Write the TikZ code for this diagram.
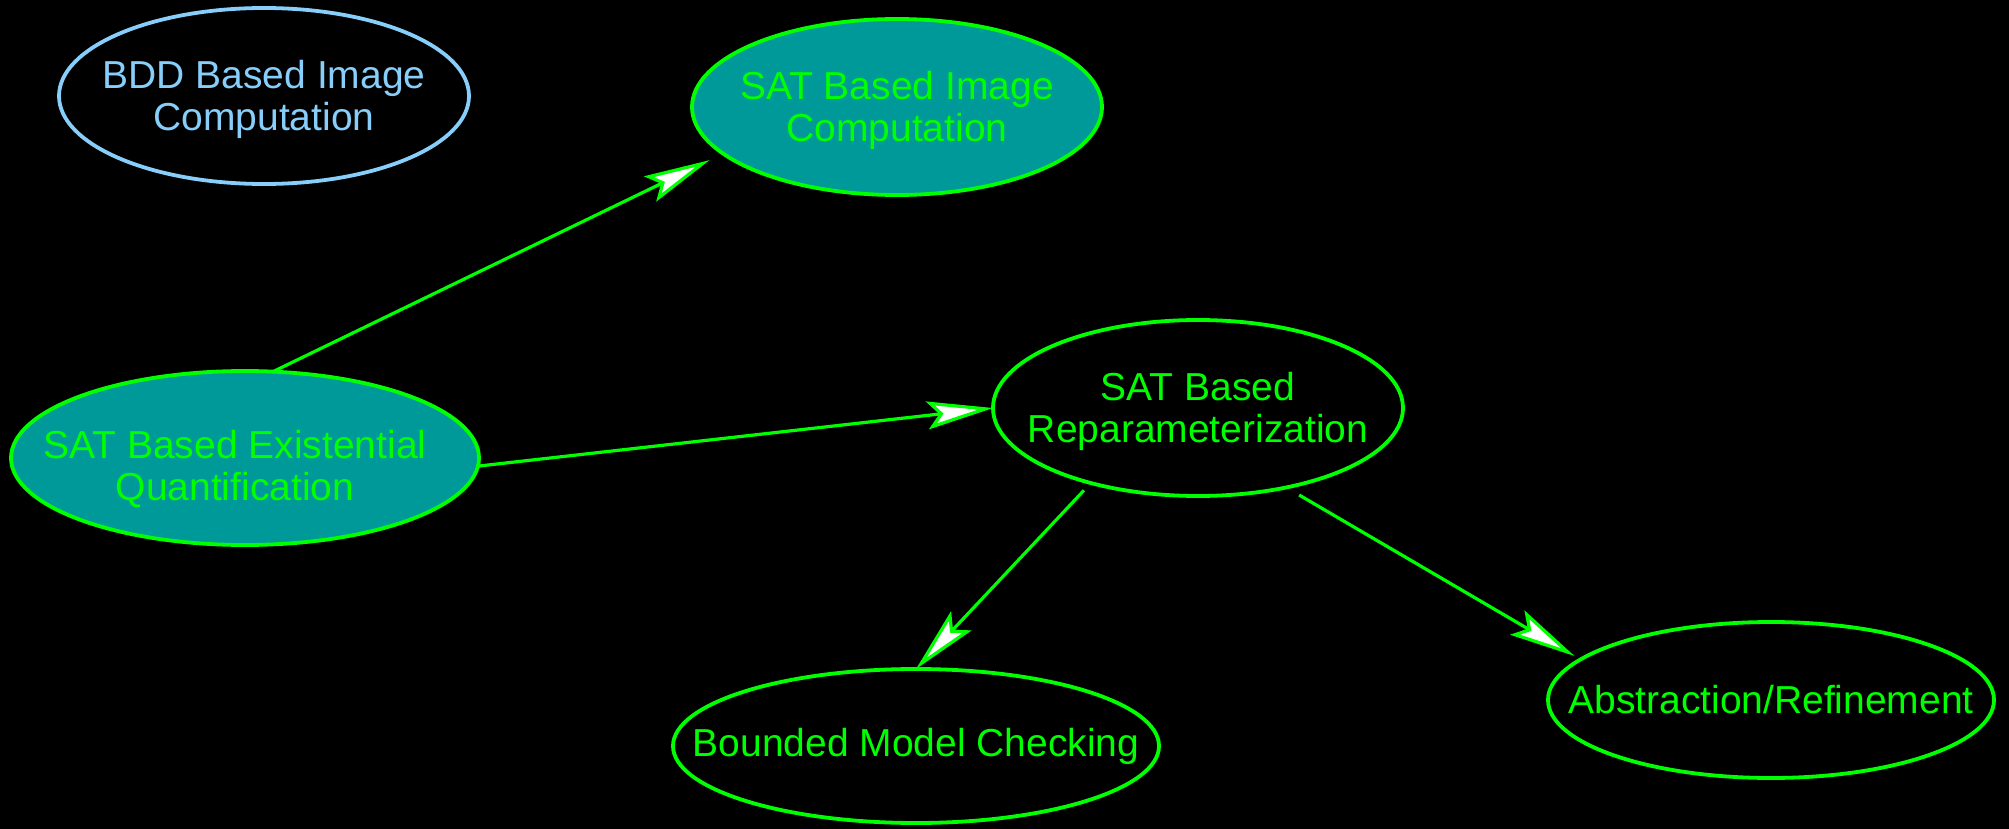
\documentclass[tikz,border=0pt]{standalone}
\usepackage{fontspec}
\setmainfont{Liberation Sans}
\usetikzlibrary{arrows.meta,shapes.geometric}
\definecolor{lime}{RGB}{0,255,0}
\definecolor{skyb}{RGB}{135,206,250}
\definecolor{tealf}{RGB}{0,153,153}
\begin{document}
\begin{tikzpicture}[x=0.5pt,y=-0.5pt,
  ell/.style={ellipse,draw,line width=1.9pt,inner sep=0pt,outer sep=0pt},
  lbl/.style={align=center,font=\fontsize{19.5}{21}\selectfont,inner sep=0pt},
  edge/.style={draw=lime,line width=1.6pt,-{Stealth[length=33pt,width=14pt,inset=6pt,fill=white]}}]
\fill[black] (0,0) rectangle (2009,829);
\useasboundingbox (0,0) rectangle (2009,829);

\node[ell,draw=skyb,minimum width=205pt,minimum height=88pt] (bdd) at (264,96) {};
\node[lbl,text=skyb] (bddT) at ([yshift=-1.5pt]bdd.center) {BDD Based Image\\Computation};

\node[ell,draw=lime,fill=tealf,minimum width=205pt,minimum height=88pt] (img) at (897,107) {};
\node[lbl,text=lime] (imgT) at ([yshift=-1.5pt]img.center) {SAT Based Image\\Computation};

\node[ell,draw=lime,fill=tealf,minimum width=234pt,minimum height=87pt] (ex) at (245,458) {};
\node[lbl,text=lime] (exT) at ([xshift=-5pt,yshift=-5.5pt]ex.center) {SAT Based Existential\\Quantification};

\node[ell,draw=lime,minimum width=205pt,minimum height=88pt] (rep) at (1198,408) {};
\node[lbl,text=lime] (repT) at ([yshift=-1.5pt]rep.center) {SAT Based\\Reparameterization};

\node[ell,draw=lime,minimum width=243pt,minimum height=77pt] (bmc) at (916,746) {};
\node[lbl,text=lime] (bmcT) at (bmc.center) {Bounded Model Checking};

\node[ell,draw=lime,minimum width=223pt,minimum height=78pt] (abs) at (1771,700) {};
\node[lbl,text=lime] (absT) at (abs.center) {Abstraction/Refinement};

\draw[edge,shorten >=7.5pt] (ex.72) -- (img.195);
\draw[edge] (ex.-2) -- (rep.west);
\draw[edge,shorten <=5pt] (rep.215) -- (bmc.north);
\draw[edge,shorten <=7.5pt,shorten >=3.5pt] (rep.-42) -- (abs.168);
\end{tikzpicture}
\end{document}
